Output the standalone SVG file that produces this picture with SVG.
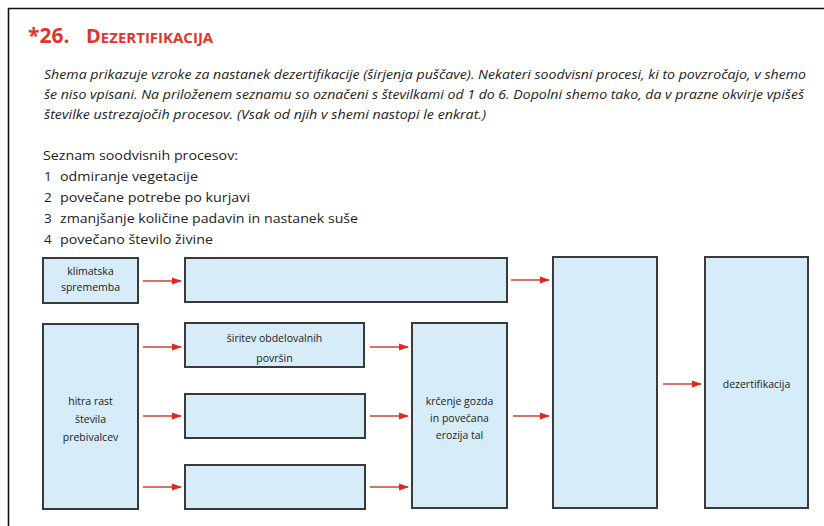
<svg xmlns="http://www.w3.org/2000/svg" width="824" height="526" viewBox="0 0 824 526">
<defs>
<marker id="ah" markerWidth="10" markerHeight="8" refX="9" refY="4" orient="auto" markerUnits="userSpaceOnUse">
<path d="M0,0.5 L10,4 L0,7.5 Z" fill="#e0281e"/>
</marker>
</defs>
<style>
.bx{fill:#d6ecf8;stroke:#3a3a3a;stroke-width:2}
.lbl{font-family:"Open Sans","Liberation Sans",sans-serif;font-size:10.5px;fill:#222;text-anchor:middle}
.cn{stroke:#c9423a;stroke-width:1.4;fill:none;marker-end:url(#ah)}
.it{font-family:"Open Sans","Liberation Sans",sans-serif;font-style:italic;font-size:12px;fill:#222}
.ls{font-family:"Open Sans","Liberation Sans",sans-serif;font-size:13.5px;fill:#222}
</style>
<rect width="824" height="526" fill="#fff"/>
<path d="M8.5,526 V8.5 H824" fill="none" stroke="#111" stroke-width="1.6"/>
<text x="28" y="43" font-family="'Open Sans','Liberation Sans',sans-serif" font-weight="bold" fill="#e0352b"><tspan font-size="21">*26.</tspan><tspan x="86" font-size="20">D</tspan><tspan font-size="15">EZERTIFIKACIJA</tspan></text>
<text class="it" x="44" y="79" textLength="762" lengthAdjust="spacingAndGlyphs">Shema prikazuje vzroke za nastanek dezertifikacije (širjenja puščave). Nekateri soodvisni procesi, ki to povzročajo, v shemo</text>
<text class="it" x="44" y="99" textLength="760" lengthAdjust="spacingAndGlyphs">še niso vpisani. Na priloženem seznamu so označeni s številkami od 1 do 6. Dopolni shemo tako, da v prazne okvirje vpišeš</text>
<text class="it" x="44" y="119" textLength="442" lengthAdjust="spacingAndGlyphs">številke ustrezajočih procesov. (Vsak od njih v shemi nastopi le enkrat.)</text>
<text class="ls" x="43" y="160" textLength="195" lengthAdjust="spacingAndGlyphs">Seznam soodvisnih procesov:</text>
<text class="ls" x="44" y="181">1</text><text class="ls" x="60" y="181" textLength="138" lengthAdjust="spacingAndGlyphs">odmiranje vegetacije</text>
<text class="ls" x="44" y="202">2</text><text class="ls" x="60" y="202" textLength="190" lengthAdjust="spacingAndGlyphs">povečane potrebe po kurjavi</text>
<text class="ls" x="44" y="223">3</text><text class="ls" x="60" y="223" textLength="298" lengthAdjust="spacingAndGlyphs">zmanjšanje količine padavin in nastanek suše</text>
<text class="ls" x="44" y="244">4</text><text class="ls" x="60" y="244" textLength="153" lengthAdjust="spacingAndGlyphs">povečano število živine</text>
<g id="n-klimatska"><rect class="bx" x="43" y="258" width="95" height="45"/><text class="lbl" x="90.5" y="275">klimatska</text><text class="lbl" x="90.5" y="291">sprememba</text></g>
<g id="n-top"><rect class="bx" x="185" y="258" width="322" height="44"/></g>
<g id="n-hitra"><rect class="bx" x="43" y="324" width="95" height="185"/><text class="lbl" x="90.5" y="405">hitra rast</text><text class="lbl" x="90.5" y="423">števila</text><text class="lbl" x="90.5" y="441">prebivalcev</text></g>
<g id="n-siritev"><rect class="bx" x="185" y="323" width="179" height="44"/><text class="lbl" x="274.5" y="342">širitev obdelovalnih</text><text class="lbl" x="274.5" y="362">površin</text></g>
<g id="n-b3"><rect class="bx" x="185" y="394" width="180" height="44"/></g>
<g id="n-b4"><rect class="bx" x="185" y="465" width="180" height="44"/></g>
<g id="n-krcenje"><rect class="bx" x="412" y="323" width="95" height="185"/><text class="lbl" x="459.5" y="405">krčenje gozda</text><text class="lbl" x="459.5" y="422">in povečana</text><text class="lbl" x="459.5" y="439">erozija tal</text></g>
<g id="n-tall"><rect class="bx" x="553" y="257" width="104" height="251"/></g>
<g id="n-dez"><rect class="bx" x="705" y="257" width="103" height="251"/><text class="lbl" x="756.5" y="388">dezertifikacija</text></g>
<g id="connectors">
<line class="cn" x1="143" y1="281" x2="181" y2="281"/>
<line class="cn" x1="143" y1="347" x2="181" y2="347"/>
<line class="cn" x1="143" y1="416" x2="181" y2="416"/>
<line class="cn" x1="143" y1="487" x2="181" y2="487"/>
<line class="cn" x1="370" y1="347" x2="408" y2="347"/>
<line class="cn" x1="370" y1="416" x2="408" y2="416"/>
<line class="cn" x1="370" y1="487" x2="408" y2="487"/>
<line class="cn" x1="511" y1="280" x2="549" y2="280"/>
<line class="cn" x1="513" y1="416" x2="549" y2="416"/>
<line class="cn" x1="663" y1="384" x2="701" y2="384"/>
</g>
</svg>
